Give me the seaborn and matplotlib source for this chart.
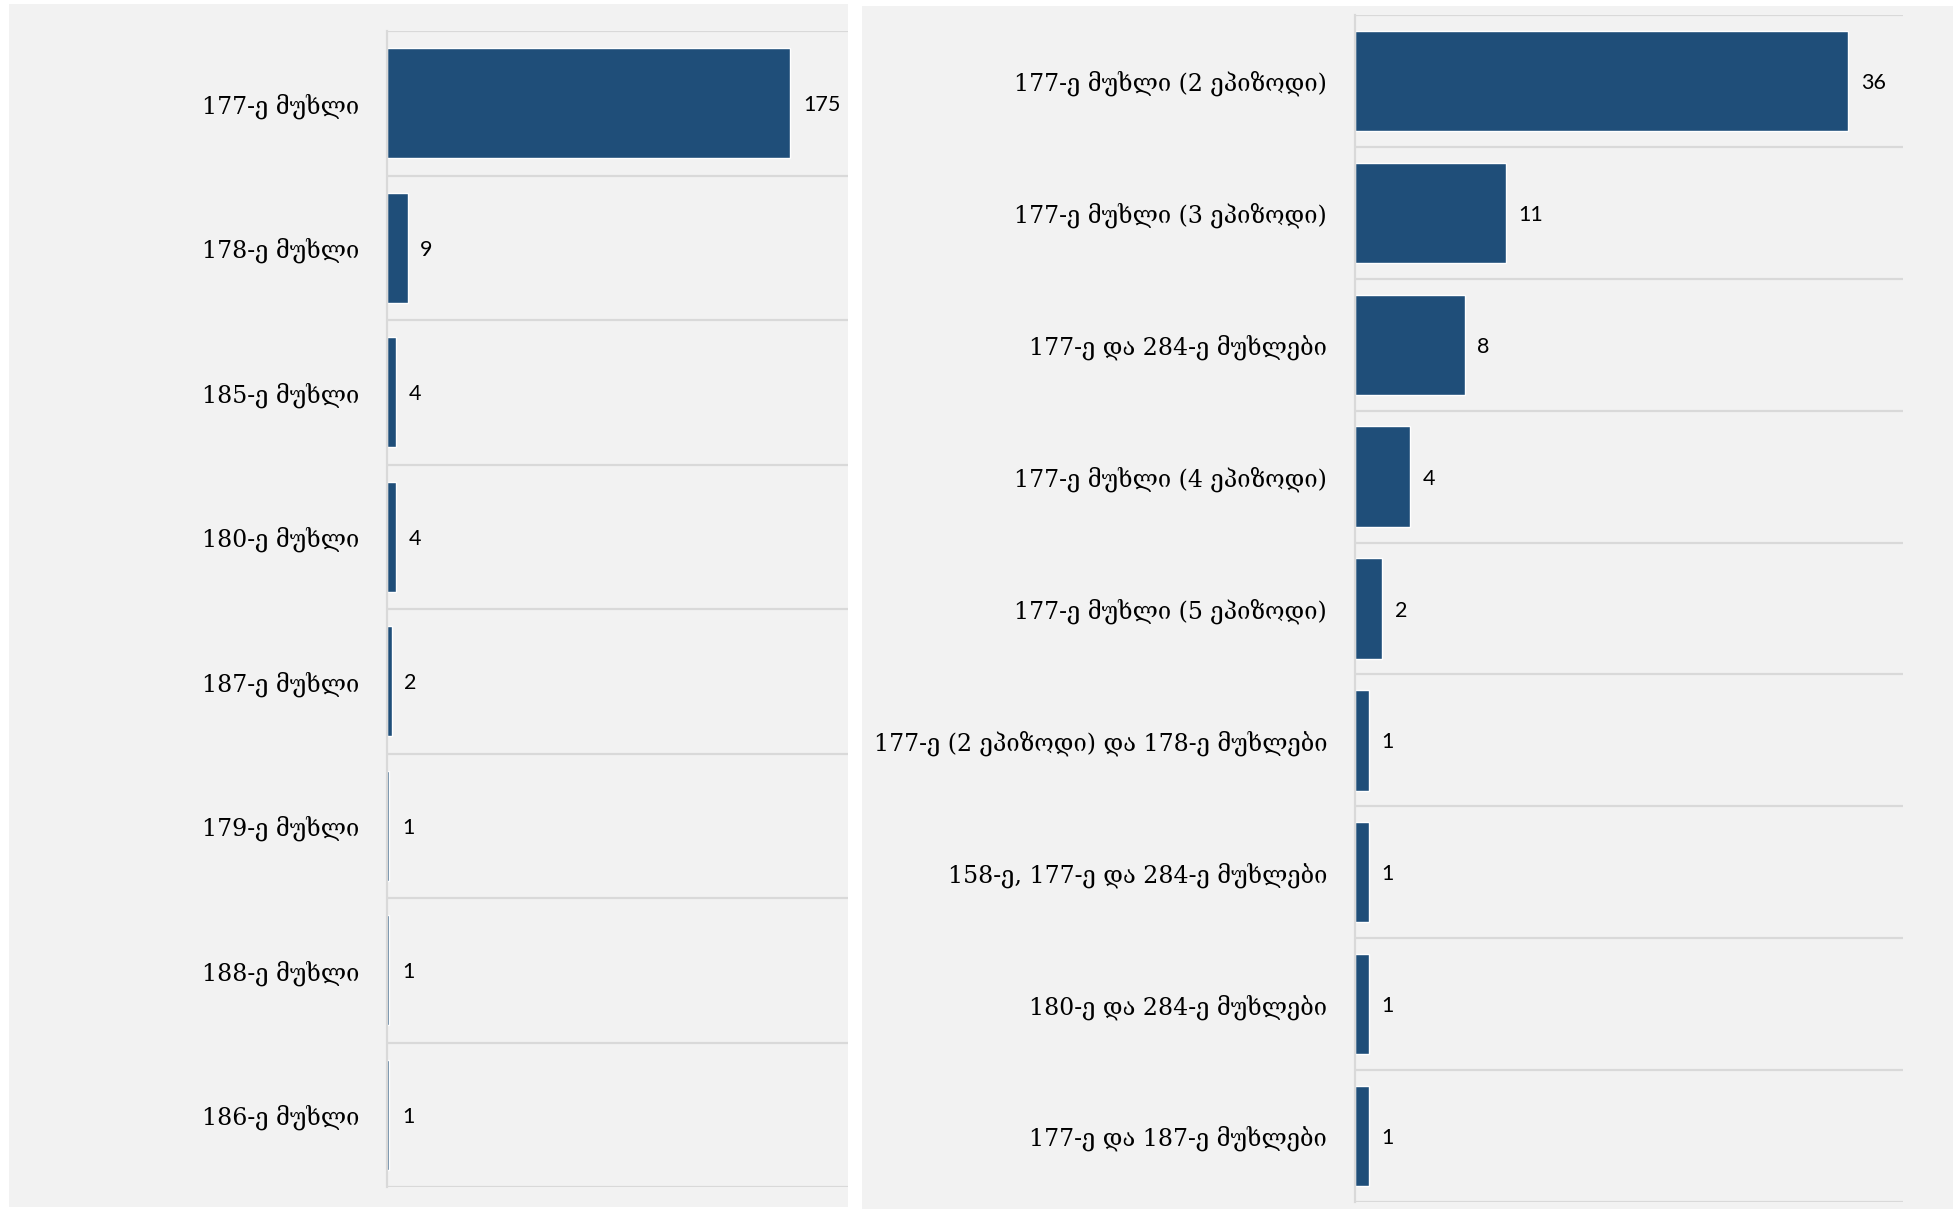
import matplotlib
matplotlib.use("Agg")
import matplotlib.pyplot as plt
from matplotlib.patches import Rectangle
from matplotlib.ticker import FixedLocator
import seaborn as sns
import pandas as pd

# data
left_cats = ['177-ე მუხლი', '178-ე მუხლი', '185-ე მუხლი', '180-ე მუხლი',
             '187-ე მუხლი', '179-ე მუხლი', '188-ე მუხლი', '186-ე მუხლი']
left_vals = [175, 9, 4, 4, 2, 1, 1, 1]

right_cats = ['177-ე მუხლი (2 ეპიზოდი)', '177-ე მუხლი (3 ეპიზოდი)',
              '177-ე და 284-ე მუხლები', '177-ე მუხლი (4 ეპიზოდი)',
              '177-ე მუხლი (5 ეპიზოდი)', '177-ე (2 ეპიზოდი) და 178-ე მუხლები',
              '158-ე, 177-ე და 284-ე მუხლები', '180-ე და 284-ე მუხლები',
              '177-ე და 187-ე მუხლები']
right_vals = [36, 11, 8, 4, 2, 1, 1, 1, 1]

bar_color = '#1F4E79'
panel_bg = '#F2F2F2'
grid_color = '#D9D9D9'
label_font = ['DejaVu Serif', 'DejaVu Sans']
value_font = ['Lato', 'DejaVu Sans']

sns.set_theme(style='white')
plt.rcParams['font.family'] = label_font

W, H = 1953, 1210
fig = plt.figure(figsize=(W / 100, H / 100), dpi=100, facecolor='white')

# grey panels behind each chart (pixel boxes -> figure fraction)
for x0, y0, x1, y1 in [(9, 4, 848, 1207), (862, 6, 1953, 1209)]:
    fig.patches.append(Rectangle((x0 / W, 1 - y1 / H), (x1 - x0) / W, (y1 - y0) / H,
                                 transform=fig.transFigure, facecolor=panel_bg,
                                 edgecolor='none', zorder=-5))


def draw(box, cats, vals, xmax):
    x0, y0, x1, y1 = box
    ax = fig.add_axes([x0 / W, 1 - y1 / H, (x1 - x0) / W, (y1 - y0) / H])
    ax.set_zorder(2)
    ax.patch.set_visible(False)
    df = pd.DataFrame({'cat': cats, 'val': vals})
    sns.barplot(data=df, x='val', y='cat', ax=ax, color=bar_color,
                saturation=1, width=0.76, orient='h')
    n = len(cats)
    ax.set_xlim(0, xmax)
    ax.set_ylim(n - 0.5, -0.5)
    ax.yaxis.set_minor_locator(FixedLocator([i - 0.5 for i in range(n + 1)]))
    ax.grid(which='minor', axis='y', color=grid_color, linewidth=1.6)
    ax.grid(which='major', visible=False)
    ax.set_axisbelow(True)
    for s in ['top', 'right', 'bottom']:
        ax.spines[s].set_visible(False)
    ax.spines['left'].set_color(grid_color)
    ax.spines['left'].set_linewidth(1.6)
    ax.set_xticks([])
    ax.tick_params(axis='y', which='both', length=0, pad=20)
    for t in ax.get_yticklabels():
        t.set_fontsize(17)
        t.set_color('black')
        t.set_family(label_font)
    ax.set_xlabel('')
    ax.set_ylabel('')
    for c in ax.containers:
        labels = ax.bar_label(c, padding=9, fontsize=15.5, color='black', family=value_font)
        for t in labels:
            t.set_va('center_baseline')
    return ax


draw((387, 31, 848, 1187), left_cats, left_vals, 200)
draw((1355, 15, 1903, 1202), right_cats, right_vals, 40)

fig.savefig('out.png', dpi=100, facecolor='white')
